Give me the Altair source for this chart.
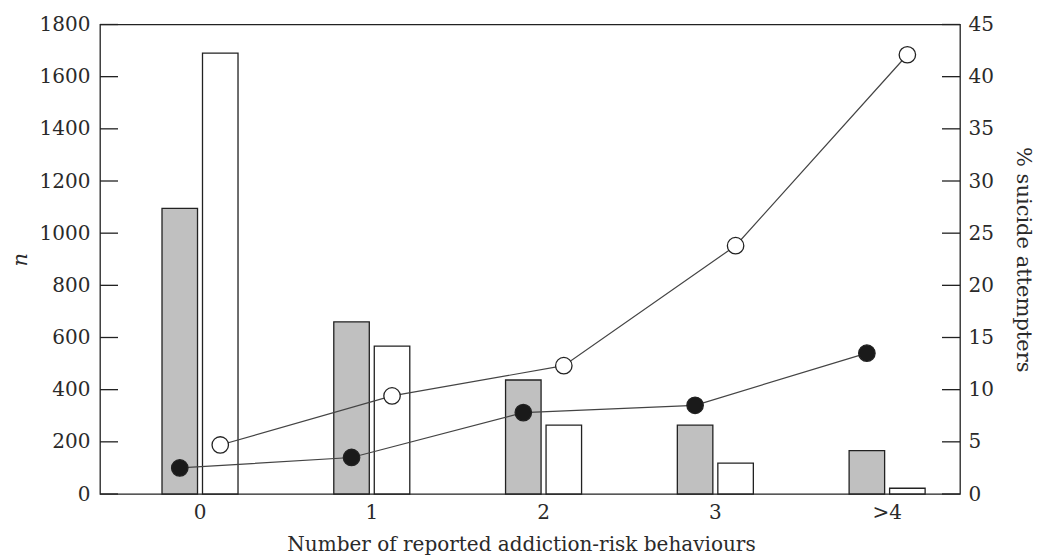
import altair as alt
import pandas as pd

categories = ["0", "1", "2", "3", ">4"]
series = ["grey", "white"]
grey_n = [1095, 660, 437, 264, 166]
white_n = [1690, 567, 264, 118, 22]
filled_pct = [2.5, 3.5, 7.8, 8.5, 13.5]
open_pct = [4.7, 9.4, 12.3, 23.8, 42.1]
n_ticks = [0, 200, 400, 600, 800, 1000, 1200, 1400, 1600, 1800]
pct_ticks = [0, 5, 10, 15, 20, 25, 30, 35, 40, 45]

bars_df = pd.DataFrame(
    {"cat": categories * 2, "series": ["grey"] * 5 + ["white"] * 5, "n": grey_n + white_n}
)
pct_df = pd.DataFrame(
    {"cat": categories * 2, "series": ["grey"] * 5 + ["white"] * 5, "pct": filled_pct + open_pct}
)
nt_df = pd.DataFrame({"n": n_ticks})
pt_df = pd.DataFrame({"pct": pct_ticks})

FONT = "DejaVu Serif"
TXT = "#2a2a2a"

xscale = alt.Scale(domain=categories, paddingInner=0.5575, paddingOuter=0.282, align=0.64)
xoff = alt.XOffset("series:N", sort=series, scale=alt.Scale(domain=series, paddingInner=0.123, paddingOuter=0))
X = alt.X(
    "cat:N", sort=categories, scale=xscale,
    axis=alt.Axis(title="Number of reported addiction-risk behaviours", labelAngle=0,
                  ticks=False, domain=False, labelPadding=8, titlePadding=12,
                  titleFontSize=20, titleX=421),
)

yn = alt.Y(
    "n:Q", scale=alt.Scale(domain=[0, 1800], nice=False),
    axis=alt.Axis(title="n", values=n_ticks, format="d", ticks=False, domain=False, labelPadding=10,
                  titleFontStyle="italic", titlePadding=9, grid=False),
)
yp = alt.Y(
    "pct:Q", scale=alt.Scale(domain=[0, 45], nice=False),
    axis=alt.Axis(title="% suicide attempters", orient="right", values=pct_ticks, format="d", ticks=False,
                  domain=False, labelPadding=8, titlePadding=19, grid=False),
)

bars = alt.Chart(bars_df).mark_bar(stroke="#222", strokeWidth=1.3).encode(
    x=X, xOffset=xoff, y=yn,
    fill=alt.Fill("series:N", scale=alt.Scale(domain=series, range=["#c0c0c0", "#ffffff"]), legend=None),
)
lticks = alt.Chart(nt_df).mark_rule(color="#222", strokeWidth=1.3).encode(
    y="n:Q", x=alt.value(0), x2=alt.value(18)
)
left = alt.layer(bars, lticks)

lines = alt.Chart(pct_df).mark_line(color="#444", strokeWidth=1.2).encode(
    x=X, xOffset=xoff, y=yp, detail="series:N"
)
pts = alt.Chart(pct_df).mark_point(filled=False, size=270, stroke="#222", strokeWidth=1.3, opacity=1).encode(
    x=X, xOffset=xoff, y=yp,
    fill=alt.Fill("series:N", scale=alt.Scale(domain=series, range=["#1a1a1a", "#ffffff"]), legend=None),
)
rticks = alt.Chart(pt_df).mark_rule(color="#222", strokeWidth=1.3).encode(
    y="pct:Q", x=alt.value(842), x2=alt.value(860)
)
right = alt.layer(lines, pts, rticks)

chart = (
    alt.layer(left, right)
    .resolve_scale(y="independent", fill="independent")
    .properties(width=860, height=469.5, autosize=alt.AutoSizeParams(type="none"),
                padding={"left": 92, "top": 16.5, "right": 76, "bottom": 62})
    .configure_view(stroke="#222", strokeWidth=1.3)
    .configure_axis(labelFont=FONT, titleFont=FONT, labelFontSize=20, titleFontSize=21,
                    labelColor=TXT, titleColor=TXT, titleFontWeight="normal")
)

chart.save("out.html", embed_options={"renderer": "svg", "actions": False})
